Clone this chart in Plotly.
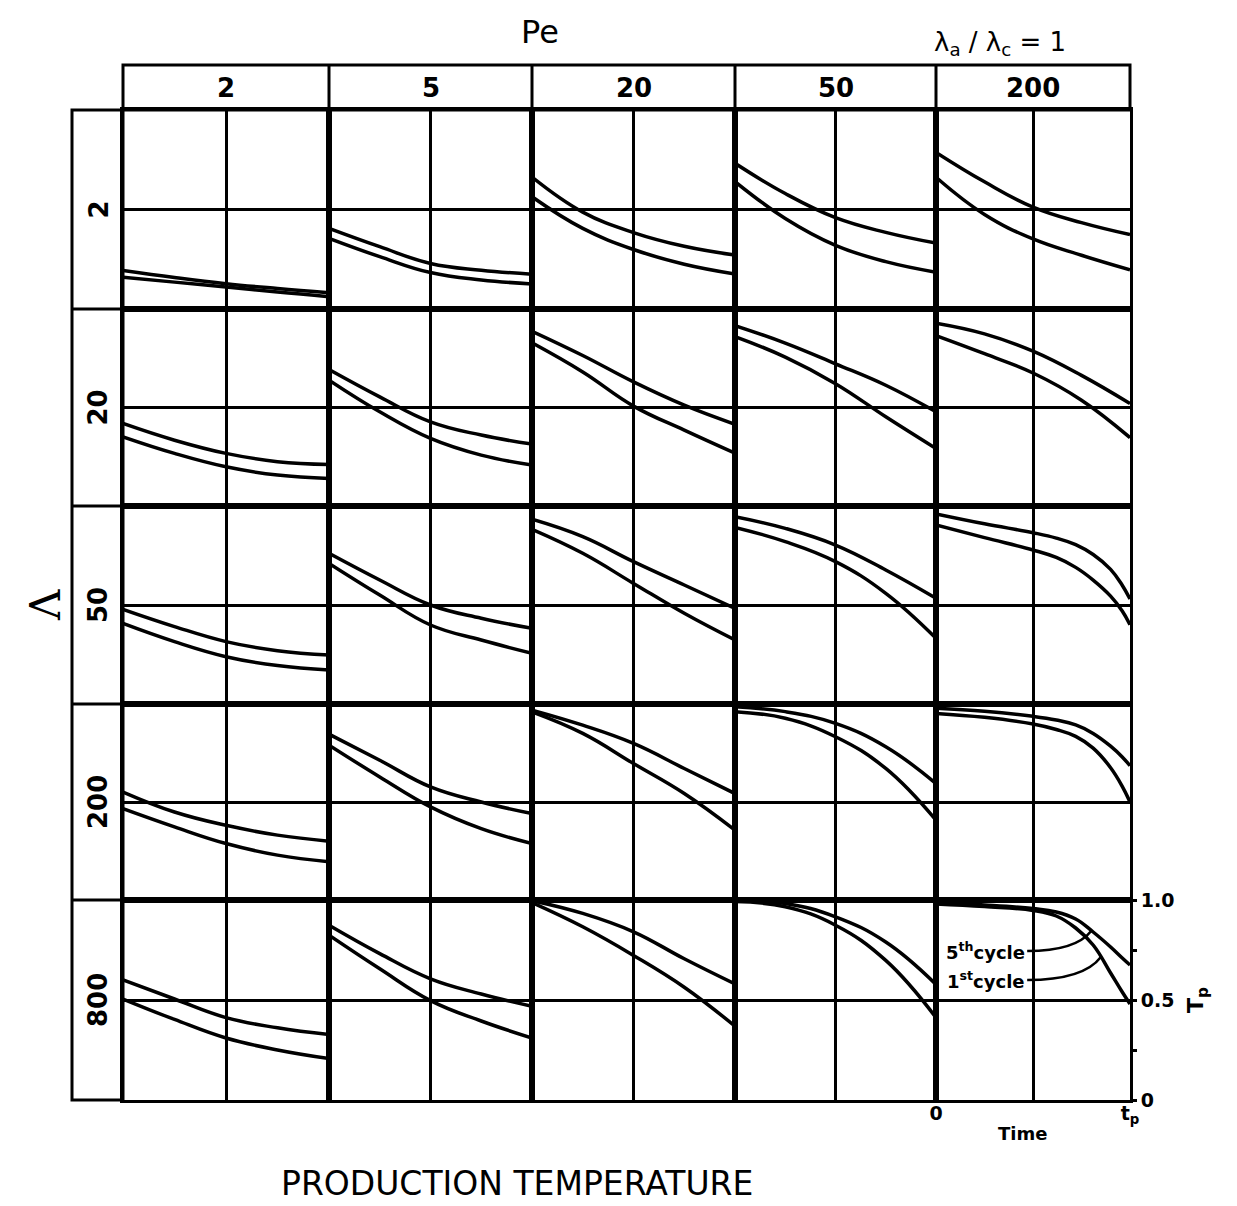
import plotly.graph_objects as go

# ---------------- data ----------------
PE_VALUES = ["2", "5", "20", "50", "200"]
LAMBDA_VALUES = ["2", "20", "50", "200", "800"]
TIME_STD = [0, 0.25, 0.5, 0.75, 1.0]
TIME_FINE = [0, 0.25, 0.5, 0.62, 0.72, 0.81, 0.9, 0.96, 1.0]

# dimensionless production temperature, one list per Pe (2, 5, 20, 50, 200)
FIFTH_L2 = [
    [0.193, 0.158, 0.127, 0.103, 0.082],
    [0.405, 0.313, 0.229, 0.195, 0.175],
    [0.663, 0.487, 0.384, 0.315, 0.271],
    [0.732, 0.580, 0.459, 0.385, 0.331],
    [0.787, 0.639, 0.512, 0.434, 0.374],
]
FIRST_L2 = [
    [0.160, 0.135, 0.111, 0.085, 0.062],
    [0.355, 0.263, 0.183, 0.146, 0.126],
    [0.564, 0.405, 0.299, 0.225, 0.176],
    [0.640, 0.455, 0.320, 0.238, 0.185],
    [0.662, 0.475, 0.352, 0.270, 0.197],
]
FIFTH_L20 = [
    [0.419, 0.334, 0.267, 0.225, 0.211],
    [0.693, 0.554, 0.427, 0.360, 0.314],
    [0.887, 0.764, 0.630, 0.512, 0.415],
    [0.916, 0.827, 0.722, 0.613, 0.478],
    [0.928, 0.874, 0.786, 0.663, 0.520],
]
FIRST_L20 = [
    [0.351, 0.267, 0.199, 0.157, 0.140],
    [0.639, 0.478, 0.343, 0.258, 0.208],
    [0.828, 0.680, 0.507, 0.385, 0.268],
    [0.860, 0.756, 0.621, 0.453, 0.292],
    [0.865, 0.773, 0.675, 0.537, 0.347],
]
FIFTH_L50 = [
    [0.478, 0.391, 0.315, 0.269, 0.247],
    [0.761, 0.626, 0.500, 0.433, 0.382],
    [0.933, 0.845, 0.719, 0.601, 0.483],
    [0.946, 0.887, 0.803, 0.677, 0.534],
    [0.960, 0.910, 0.865, 0.838, 0.805, 0.755, 0.680, 0.600, 0.530],
]
FIRST_L50 = [
    [0.407, 0.315, 0.239, 0.194, 0.172],
    [0.710, 0.550, 0.399, 0.323, 0.256],
    [0.882, 0.761, 0.609, 0.458, 0.323],
    [0.892, 0.820, 0.719, 0.559, 0.332],
    [0.904, 0.840, 0.778, 0.740, 0.690, 0.626, 0.545, 0.470, 0.400],
]
FIFTH_L200 = [
    [0.551, 0.449, 0.381, 0.331, 0.300],
    [0.846, 0.713, 0.577, 0.500, 0.441],
    [0.969, 0.892, 0.799, 0.671, 0.543],
    [0.986, 0.961, 0.901, 0.782, 0.594],
    [0.978, 0.963, 0.937, 0.918, 0.893, 0.850, 0.785, 0.730, 0.685],
]
FIRST_L200 = [
    [0.466, 0.373, 0.288, 0.229, 0.195],
    [0.790, 0.628, 0.475, 0.364, 0.288],
    [0.960, 0.850, 0.696, 0.543, 0.356],
    [0.961, 0.927, 0.833, 0.671, 0.407],
    [0.952, 0.932, 0.898, 0.870, 0.835, 0.775, 0.675, 0.580, 0.500],
]
FIFTH_L800 = [
    [0.601, 0.505, 0.412, 0.361, 0.327],
    [0.874, 0.732, 0.606, 0.530, 0.469],
    [0.997, 0.933, 0.841, 0.706, 0.580],
    [0.997, 0.983, 0.916, 0.790, 0.578],
    [0.987, 0.975, 0.957, 0.940, 0.905, 0.840, 0.765, 0.710, 0.675],
]
FIRST_L800 = [
    [0.505, 0.403, 0.310, 0.250, 0.207],
    [0.824, 0.656, 0.497, 0.395, 0.310],
    [0.987, 0.866, 0.723, 0.564, 0.369],
    [0.992, 0.966, 0.874, 0.698, 0.412],
    [0.980, 0.967, 0.948, 0.920, 0.860, 0.775, 0.635, 0.540, 0.480],
]
FIFTH_ROWS = [FIFTH_L2, FIFTH_L20, FIFTH_L50, FIFTH_L200, FIFTH_L800]
FIRST_ROWS = [FIRST_L2, FIRST_L20, FIRST_L50, FIRST_L200, FIRST_L800]

# ---------------- layout geometry (pixels) ----------------
W, H = 1237, 1206
COL_EDGES = [123, 329, 532, 735, 936, 1130]
ROW_EDGES = [110, 309, 506, 704, 900, 1100]
HEAD_TOP = 65
LEFT_X = 72


def px(x):
    return x / W


def py(y):
    return 1 - y / H


FONT = "DejaVu Sans"
fig = go.Figure()
layout = dict(
    width=W, height=H, margin=dict(l=0, r=0, t=0, b=0, pad=0, autoexpand=False),
    paper_bgcolor="white", plot_bgcolor="white", showlegend=False,
    font=dict(family=FONT, color="black"),
)

for r in range(5):
    for c in range(5):
        k = r * 5 + c + 1
        xa = dict(domain=[px(COL_EDGES[c]), px(COL_EDGES[c + 1])], range=[0, 1],
                  anchor=f"y{k}", tickvals=[0.5], showgrid=True, gridcolor="black",
                  gridwidth=2.5, showline=True, mirror=True, linecolor="black",
                  linewidth=3, showticklabels=False, ticks="", zeroline=False,
                  fixedrange=True, automargin=False)
        ya = dict(domain=[py(ROW_EDGES[r + 1]), py(ROW_EDGES[r])], range=[0, 1],
                  anchor=f"x{k}", tickvals=[0.5], showgrid=True, gridcolor="black",
                  gridwidth=2.5, showline=True, mirror=True, linecolor="black",
                  linewidth=3, showticklabels=False, ticks="", zeroline=False,
                  fixedrange=True, automargin=False)
        layout[f"xaxis{k}"] = xa
        layout[f"yaxis{k}"] = ya
        for series in (FIFTH_ROWS[r][c], FIRST_ROWS[r][c]):
            t = TIME_STD if len(series) == len(TIME_STD) else TIME_FINE
            fig.add_trace(go.Scatter(
                x=t, y=series, xaxis=f"x{k}", yaxis=f"y{k}", mode="lines",
                line=dict(color="black", width=3.5, shape="spline", smoothing=1.2),
                hoverinfo="skip"))

# extra axes for bottom-right panel labels
layout["yaxis26"] = dict(overlaying="y25", anchor="x25", side="right", range=[0, 1],
                         tickvals=[0, 0.25, 0.5, 0.75, 1],
                         ticktext=["0", "", "0.5", "", "1.0"], ticks="outside",
                         ticklen=6, tickwidth=2.5, tickcolor="black", showgrid=False,
                         showline=False, zeroline=False, automargin=False,
                         tickfont=dict(size=19, family=FONT, weight="bold"))
layout["xaxis26"] = dict(overlaying="x25", anchor="y25", side="bottom", range=[0, 1],
                         tickvals=[0, 1], ticktext=["0", "t<sub>p</sub>"], ticks="",
                         showgrid=False, showline=False, zeroline=False, automargin=False,
                         tickfont=dict(size=19, family=FONT, weight="bold"))
fig.add_trace(go.Scatter(x=[0.5], y=[0.5], xaxis="x25", yaxis="y26", mode="markers",
                         marker=dict(opacity=0), hoverinfo="skip"))
fig.add_trace(go.Scatter(x=[0.5], y=[0.5], xaxis="x26", yaxis="y25", mode="markers",
                         marker=dict(opacity=0), hoverinfo="skip"))

shapes = []
LW = 3
# top header band
shapes.append(dict(type="rect", xref="paper", yref="paper",
                   x0=px(COL_EDGES[0]), x1=px(COL_EDGES[-1]), y0=py(ROW_EDGES[0]), y1=py(HEAD_TOP),
                   line=dict(color="black", width=LW)))
for xe in COL_EDGES[1:-1]:
    shapes.append(dict(type="line", xref="paper", yref="paper", x0=px(xe), x1=px(xe),
                       y0=py(ROW_EDGES[0]), y1=py(HEAD_TOP), line=dict(color="black", width=LW)))
# left band
shapes.append(dict(type="rect", xref="paper", yref="paper",
                   x0=px(LEFT_X), x1=px(COL_EDGES[0]), y0=py(ROW_EDGES[-1]), y1=py(ROW_EDGES[0]),
                   line=dict(color="black", width=LW)))
for ye in ROW_EDGES[1:-1]:
    shapes.append(dict(type="line", xref="paper", yref="paper", x0=px(LEFT_X), x1=px(COL_EDGES[0]),
                       y0=py(ye), y1=py(ye), line=dict(color="black", width=LW)))
# leader lines of the cycle labels (bottom-right panel)
shapes.append(dict(type="path", xref="x25", yref="y25",
                   path="M 0.47,0.745 Q 0.72,0.745 0.80,0.845",
                   line=dict(color="black", width=2.5)))
shapes.append(dict(type="path", xref="x25", yref="y25",
                   path="M 0.47,0.600 Q 0.76,0.600 0.85,0.715",
                   line=dict(color="black", width=2.5)))
layout["shapes"] = shapes


def note(x, y, text, size, angle=0, bold=False, family=FONT, xanchor="center"):
    f = dict(size=size, family=family, color="black")
    if bold:
        f["weight"] = "bold"
    return dict(xref="paper", yref="paper", x=px(x), y=py(y), text=text, showarrow=False,
                textangle=angle, xanchor=xanchor, yanchor="middle", font=f)


ann = []
for c, lab in enumerate(PE_VALUES):
    ann.append(note((COL_EDGES[c] + COL_EDGES[c + 1]) / 2, 88, lab, 26, bold=True))
for r, lab in enumerate(LAMBDA_VALUES):
    ann.append(note(98, (ROW_EDGES[r] + ROW_EDGES[r + 1]) / 2, lab, 26, angle=-90, bold=True))
ann += [
    note(540, 32, "Pe", 32),
    note(1000, 43, "λ<sub>a</sub> / λ<sub>c</sub> = 1", 26),
    note(45, 605, "Λ", 42, angle=-90, family="DejaVu Serif"),
    note(517, 1183, "PRODUCTION TEMPERATURE", 33),
    note(1022, 1133, "Time", 18, bold=True),
    note(1197, 1000, "T<sub>p</sub>", 22, angle=-90, bold=True),
]
ann += [
    dict(xref="x25", yref="y25", x=0.47, y=0.745, xanchor="right", yanchor="middle",
         text="5<sup>th</sup>cycle", showarrow=False,
         font=dict(size=18, family=FONT, weight="bold")),
    dict(xref="x25", yref="y25", x=0.47, y=0.600, xanchor="right", yanchor="middle",
         text="1<sup>st</sup>cycle", showarrow=False,
         font=dict(size=18, family=FONT, weight="bold")),
]
layout["annotations"] = ann

fig.update_layout(**layout)
fig.write_html("out.html")
